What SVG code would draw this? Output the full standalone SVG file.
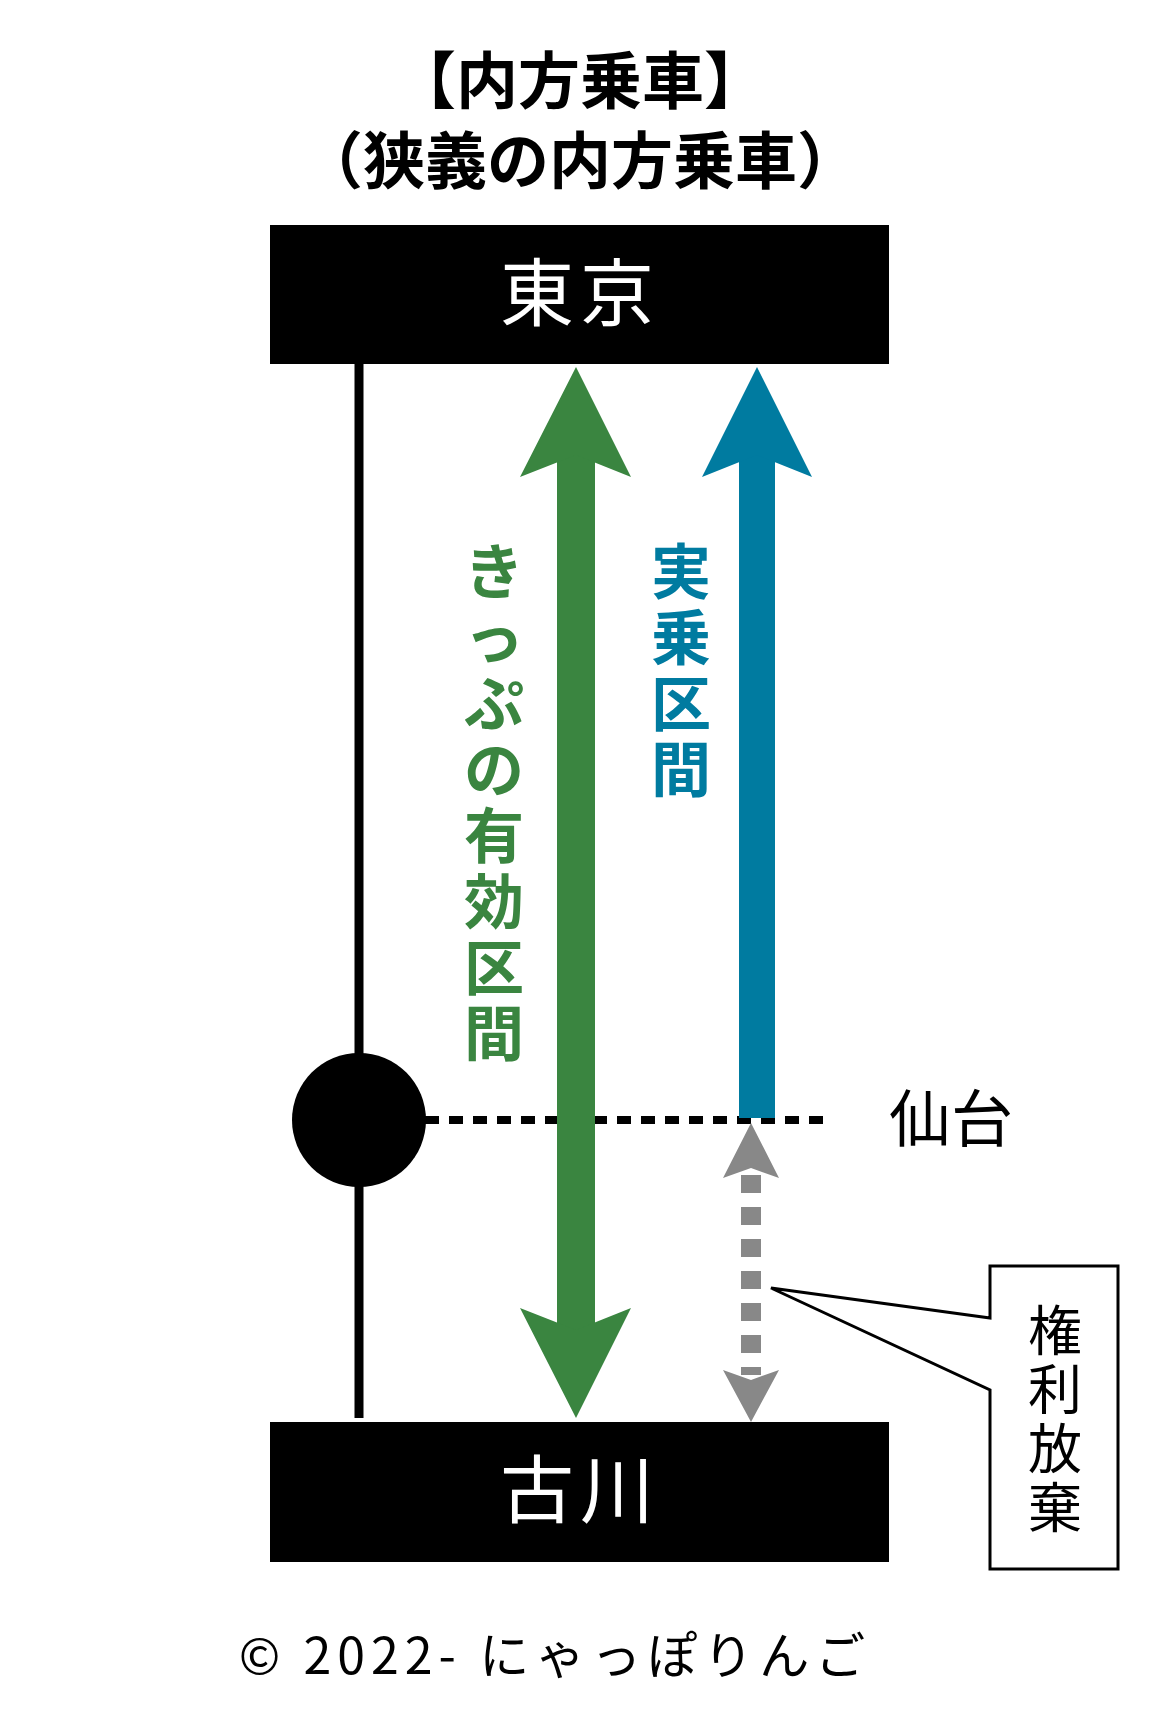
<svg xmlns="http://www.w3.org/2000/svg" width="1170" height="1733" viewBox="0 0 1170 1733">
<style>
.t{font-family:"Noto Sans CJK JP","Noto Sans",sans-serif}
.b{font-weight:bold}
</style>
<rect width="1170" height="1733" fill="#fff"/>
<g id="title" class="t b" font-size="62" text-anchor="middle">
<text x="580" y="104">【内方乗車】</text>
<text x="580" y="184">（狭義の内方乗車）</text>
</g>
<g id="tokyo"><rect x="270" y="225" width="619" height="139" fill="#000"/>
<text class="t" x="580" y="320" font-size="74" fill="#fff" text-anchor="middle" letter-spacing="6">東京</text></g>
<g id="furukawa"><rect x="270" y="1422" width="619" height="140" fill="#000"/>
<text class="t" x="580" y="1517" font-size="74" fill="#fff" text-anchor="middle" letter-spacing="6">古川</text></g>
<g id="connectors">
<line x1="359" y1="364" x2="359" y2="1418" stroke="#000" stroke-width="9"/>
<line x1="425" y1="1120" x2="828" y2="1120" stroke="#000" stroke-width="8" stroke-dasharray="14,10"/>
<rect x="557" y="440" width="38" height="900" fill="#3a8540"/>
<polygon points="576,367 631,477 576,455 520,477" fill="#3a8540"/>
<polygon points="576,1418 631,1308 576,1330 520,1308" fill="#3a8540"/>
<rect x="739" y="440" width="36" height="678" fill="#007ba0"/>
<polygon points="757,367 812,477 757,455 702,477" fill="#007ba0"/>
<line x1="751" y1="1175" x2="751" y2="1375" stroke="#888" stroke-width="20" stroke-dasharray="18,14"/>
<polygon points="751,1123 779,1178 751,1168 723,1178" fill="#888"/>
<polygon points="751,1422 779,1370 751,1380 723,1370" fill="#888"/>
</g>
<g id="sendai"><circle cx="359" cy="1120" r="67" fill="#000"/>
<text class="t" x="889" y="1142" font-size="62">仙台</text></g>
<g id="label-green" class="t b" font-size="60" fill="#3a8540" text-anchor="middle">
<text x="494" y="594">き</text><text x="494" y="660">っ</text><text x="494" y="726">ぷ</text><text x="494" y="792">の</text><text x="494" y="858">有</text><text x="494" y="924">効</text><text x="494" y="990">区</text><text x="494" y="1056">間</text>
</g>
<g id="label-blue" class="t b" font-size="60" fill="#007ba0" text-anchor="middle">
<text x="681" y="594">実</text><text x="681" y="660">乗</text><text x="681" y="726">区</text><text x="681" y="792">間</text>
</g>
<g id="callout">
<path d="M990,1266 H1118 V1569 H990 V1390 L771,1288 L990,1318 Z" fill="#fff" stroke="#000" stroke-width="3"/>
<g class="t" font-size="54" text-anchor="middle"><text x="1055" y="1351">権</text><text x="1055" y="1410">利</text><text x="1055" y="1469">放</text><text x="1055" y="1528">棄</text></g>
</g>
<text id="copyright" class="t" x="555" y="1674" font-size="50" text-anchor="middle" letter-spacing="6">© 2022- にゃっぽりんご</text>
</svg>
